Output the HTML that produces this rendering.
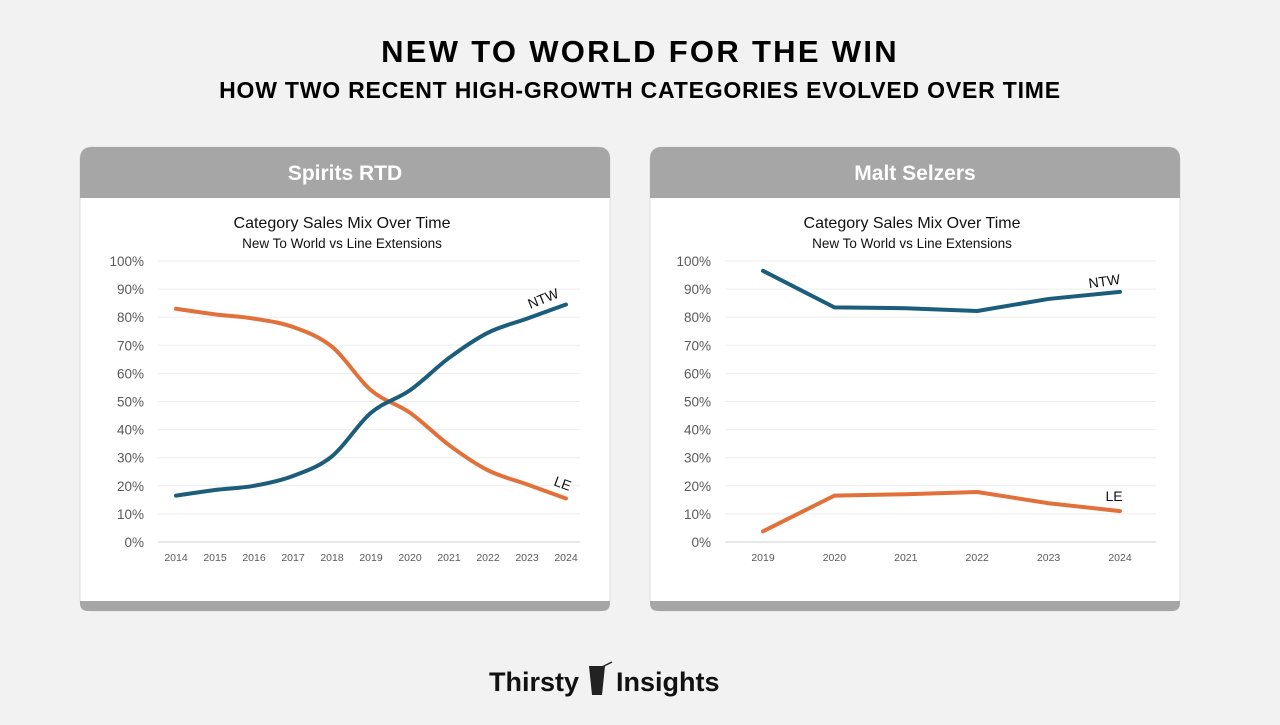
<!DOCTYPE html>
<html><head><meta charset="utf-8"><style>
html,body{margin:0;padding:0;background:#f2f2f2;}
body{width:1280px;height:720px;overflow:hidden;font-family:"Liberation Sans",sans-serif;}
</style></head><body>
<svg id="s" width="1280" height="720" viewBox="0 0 1280 720" xmlns="http://www.w3.org/2000/svg">
<text x="640" y="62" text-anchor="middle" font-size="31" font-weight="bold" fill="#000" letter-spacing="2.3">NEW TO WORLD FOR THE WIN</text>
<text x="640" y="98" text-anchor="middle" font-size="23" font-weight="bold" fill="#000" letter-spacing="0.8">HOW TWO RECENT HIGH-GROWTH CATEGORIES EVOLVED OVER TIME</text>
<g>
<text x="489" y="691" font-size="27" font-weight="bold" fill="#111">Thirsty</text>
<path d="M589 666 L605 666 L602 695 L592 695 Z" fill="#222"/>
<line x1="600" y1="668" x2="612" y2="662" stroke="#222" stroke-width="1.5"/>
<text x="616" y="691" font-size="27" font-weight="bold" fill="#111">Insights</text>
</g>
<g id="c1"></g><g id="c2"></g>
</svg>
<script>
const years1=["2014","2015","2016","2017","2018","2019","2020","2021","2022","2023","2024"];
const ntw1=[16.5,18.5,20,23.5,30.5,46,54,65.5,74.5,79.5,84.5];
const le1=[83,81,79.5,76.5,69.5,54,46,34.5,25.5,20.5,15.5];
const years2=["2019","2020","2021","2022","2023","2024"];
const ntw2=[96.5,83.5,83.2,82.2,86.5,89];
const le2=[3.8,16.5,17,17.8,13.8,11];
const yTicks=[0,10,20,30,40,50,60,70,80,90,100];
const NS="http://www.w3.org/2000/svg";
function mk(p,t,a){const e=document.createElementNS(NS,t);for(const k in a)e.setAttribute(k,a[k]);p.appendChild(e);return e;}
function draw(g,cx,title,years,ntw,le,x0,x1,gl0,gl1,smooth,ntwLab,leLab){
  const card=mk(g,'rect',{x:cx,y:147,width:530,height:464,rx:12,fill:'#fff',stroke:'#ddd'});
  
  const hd=mk(g,'path',{d:`M${cx} 198 L${cx} 159 Q${cx} 147 ${cx+12} 147 L${cx+518} 147 Q${cx+530} 147 ${cx+530} 159 L${cx+530} 198 Z`,fill:'#a6a6a6'});
  
  const bt=mk(g,'path',{d:`M${cx} 601 L${cx+530} 601 L${cx+530} 603 Q${cx+530} 611 ${cx+522} 611 L${cx+8} 611 Q${cx} 611 ${cx} 603 Z`,fill:'#a6a6a6'});
  
  const ht=mk(g,'text',{x:cx+265,y:180,'text-anchor':'middle','font-size':21,'font-weight':'bold',fill:'#fff'});ht.textContent=title;
  
  const t1=mk(g,'text',{x:cx+262,y:228,'text-anchor':'middle','font-size':16,fill:'#111'});t1.textContent='Category Sales Mix Over Time';
  
  const t2=mk(g,'text',{x:cx+262,y:248,'text-anchor':'middle','font-size':13.5,fill:'#111'});t2.textContent='New To World vs Line Extensions';
  
  const Y=v=>542-v*2.81;
  const X=i=>x0+i*(x1-x0)/(years.length-1);
  yTicks.forEach(v=>{
    const l=mk(g,'line',{x1:gl0,x2:gl1,y1:Y(v),y2:Y(v),stroke:v==0?'#d0d0d0':'#eeeeee','stroke-width':1});
    
    const t=mk(g,'text',{x:gl0-14,y:Y(v)+5,'text-anchor':'end','font-size':13.5,fill:'#595959'});t.textContent=v+'%';
    
  });
  years.forEach((y,i)=>{
    const t=mk(g,'text',{x:X(i),y:561,'text-anchor':'middle','font-size':10.5,fill:'#595959'});t.textContent=y;
    
  });
  function path(vals){
    const p=vals.map((v,i)=>[X(i),Y(v)]);
    if(!smooth)return 'M'+p.map(q=>q.join(' ')).join(' L');
    let d='M'+p[0].join(' ');
    for(let i=0;i<p.length-1;i++){
      const a=p[i-1]||p[i],b=p[i],c=p[i+1],e=p[i+2]||c;
      d+=` C${b[0]+(c[0]-a[0])/6} ${b[1]+(c[1]-a[1])/6} ${c[0]-(e[0]-b[0])/6} ${c[1]-(e[1]-b[1])/6} ${c[0]} ${c[1]}`;
    }
    return d;
  }
  const ln=mk(g,'path',{d:path(le),fill:'none',stroke:'#e2703a','stroke-width':4,'stroke-linecap':'round','stroke-linejoin':'round'});
  
  const nn=mk(g,'path',{d:path(ntw),fill:'none',stroke:'#1b5d7a','stroke-width':4,'stroke-linecap':'round','stroke-linejoin':'round'});
  
  const a=mk(g,'text',{x:ntwLab[0],y:ntwLab[1],'text-anchor':'middle','font-size':14,fill:'#111',transform:`rotate(${ntwLab[2]} ${ntwLab[0]} ${ntwLab[1]})`});a.textContent='NTW';
  
  const b=mk(g,'text',{x:leLab[0],y:leLab[1],'text-anchor':'middle','font-size':14,fill:'#111',transform:`rotate(${leLab[2]} ${leLab[0]} ${leLab[1]})`});b.textContent='LE';
  
}
draw(document.getElementById('c1'),80,'Spirits RTD',years1,ntw1,le1,176,566,158,580,true,[545,303,-22],[561,488,20]);
draw(document.getElementById('c2'),650,'Malt Selzers',years2,ntw2,le2,763,1120,725,1156,false,[1105,286,-8],[1114,501,0]);
</script>
</body></html>
